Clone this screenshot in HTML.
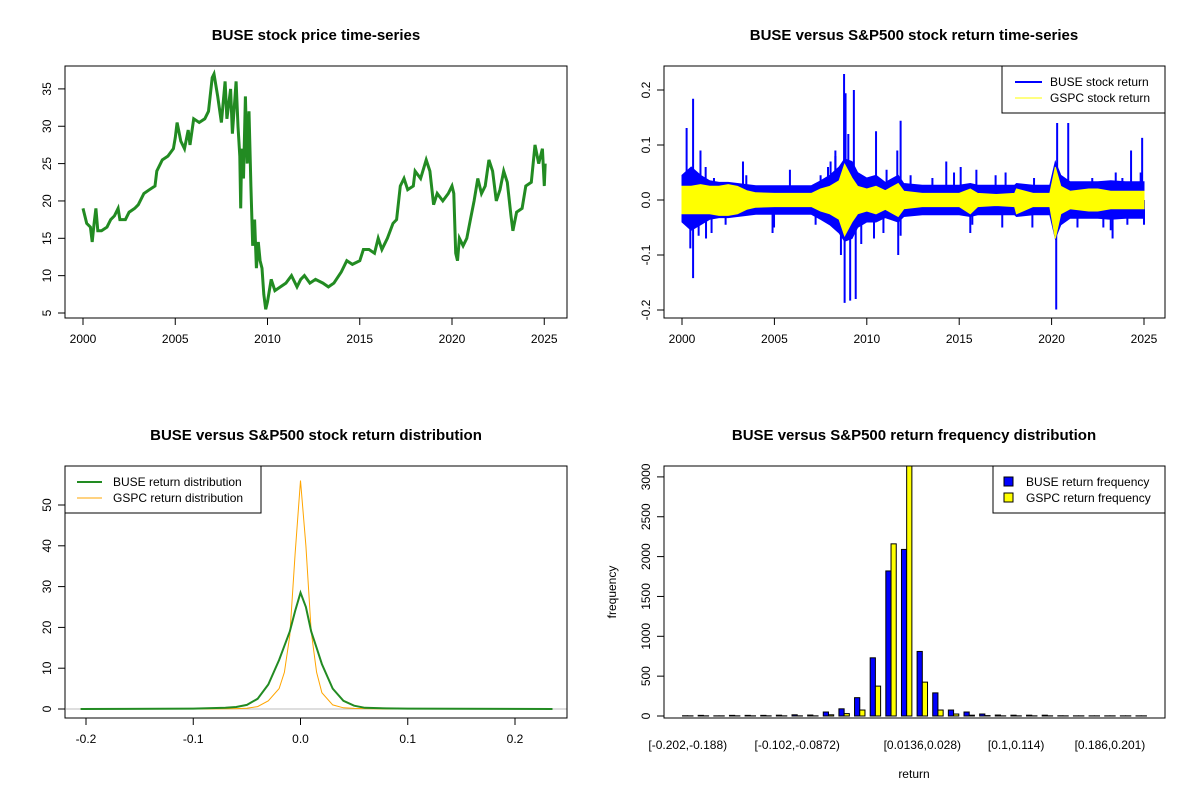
<!DOCTYPE html>
<html><head><meta charset="utf-8"><style>
body{margin:0;background:#fff}
svg{display:block;font-family:"Liberation Sans",Arial,sans-serif}
.t{font-size:12px;fill:#000}
.ti{font-size:15px;font-weight:bold;fill:#000}
</style></head><body>
<svg id="s" width="1200" height="800" viewBox="0 0 1200 800"></svg>
<script>
// ---------- data ----------
const priceYears=[2000.0,2000.2,2000.4,2000.5,2000.6,2000.7,2000.8,2001.0,2001.3,2001.5,2001.7,2001.9,2002.0,2002.3,2002.5,2002.8,2003.0,2003.3,2003.6,2003.9,2004.0,2004.3,2004.6,2004.9,2005.0,2005.1,2005.3,2005.5,2005.7,2005.8,2006.0,2006.3,2006.6,2006.8,2007.0,2007.1,2007.3,2007.5,2007.7,2007.8,2008.0,2008.1,2008.3,2008.4,2008.5,2008.55,2008.6,2008.7,2008.8,2008.9,2009.0,2009.1,2009.2,2009.3,2009.4,2009.5,2009.6,2009.7,2009.8,2009.9,2010.0,2010.2,2010.4,2010.7,2011.0,2011.3,2011.6,2011.8,2012.0,2012.3,2012.6,2013.0,2013.3,2013.6,2014.0,2014.3,2014.6,2015.0,2015.2,2015.5,2015.8,2016.0,2016.2,2016.5,2016.8,2017.0,2017.2,2017.4,2017.6,2017.9,2018.0,2018.3,2018.6,2018.8,2019.0,2019.2,2019.5,2019.8,2020.0,2020.1,2020.2,2020.3,2020.4,2020.6,2020.8,2021.0,2021.2,2021.4,2021.6,2021.8,2022.0,2022.2,2022.4,2022.6,2022.8,2023.0,2023.2,2023.3,2023.5,2023.8,2024.0,2024.3,2024.5,2024.7,2024.9,2025.0,2025.05];
const priceValues=[19,17,16.5,14.5,17,19,16,16,16.5,17.5,18,19,17.5,17.5,18.5,19,19.5,21,21.5,22,24,25.5,26,27,28.5,30.5,28,27,29.5,27.5,31,30.5,31,32,36.5,37,34,30.5,36,31,35,29,36,30,26,19,27,23,34,25,32,22,14,17.5,11,14.5,12,11,7.5,5.5,6.5,9.5,8,8.5,9,10,8.5,9.5,10,9,9.5,9,8.5,9,10.5,12,11.5,12,13.5,13.5,13,15,13.5,15,17,17.5,22,23,21.5,22,24,23,25.5,24,19.5,21,20,21,22,21,13,12,15,14,15,17.5,20,23,21,22,25.5,24,20,21.5,24,22.5,18,16,18.5,19,22,22.5,27.5,25,27,22,25];
const priceTicks=[5,10,15,20,25,30,35];
const yearTicks=[2000,2005,2010,2015,2020,2025];

const bandYears=[2000,2000.5,2001,2001.5,2002,2002.5,2003,2003.5,2004,2005,2006,2007,2007.5,2008,2008.5,2008.8,2009.2,2009.5,2010,2010.5,2011,2011.7,2012,2013,2014,2015,2015.6,2016,2017,2018,2018.1,2019,2019.9,2020.2,2020.5,2021,2022,2022.5,2023.2,2024,2025];
const buseUp=[0.045,0.06,0.045,0.035,0.032,0.032,0.03,0.028,0.026,0.026,0.026,0.026,0.035,0.045,0.06,0.075,0.07,0.05,0.04,0.045,0.032,0.045,0.03,0.027,0.027,0.027,0.03,0.027,0.027,0.027,0.03,0.027,0.027,0.07,0.045,0.033,0.033,0.033,0.035,0.033,0.033];
const buseDn=[-0.04,-0.055,-0.045,-0.035,-0.032,-0.032,-0.03,-0.028,-0.026,-0.026,-0.026,-0.026,-0.035,-0.045,-0.06,-0.075,-0.07,-0.05,-0.04,-0.04,-0.032,-0.04,-0.03,-0.027,-0.027,-0.027,-0.03,-0.027,-0.027,-0.027,-0.03,-0.027,-0.027,-0.07,-0.045,-0.033,-0.033,-0.033,-0.035,-0.033,-0.033];
const gspcUp=[0.025,0.025,0.028,0.025,0.025,0.028,0.025,0.017,0.013,0.012,0.012,0.012,0.02,0.025,0.035,0.065,0.04,0.025,0.02,0.025,0.017,0.03,0.016,0.012,0.012,0.012,0.02,0.012,0.01,0.012,0.02,0.012,0.012,0.06,0.025,0.016,0.02,0.02,0.016,0.016,0.016];
const gspcDn=[-0.025,-0.025,-0.025,-0.025,-0.028,-0.028,-0.025,-0.017,-0.013,-0.012,-0.012,-0.012,-0.02,-0.025,-0.035,-0.065,-0.04,-0.025,-0.02,-0.025,-0.017,-0.03,-0.016,-0.012,-0.012,-0.012,-0.025,-0.012,-0.01,-0.012,-0.025,-0.012,-0.012,-0.07,-0.025,-0.016,-0.02,-0.02,-0.016,-0.016,-0.016];
const spikeYears=[2000.25,2000.6,2000.6,2000.45,2001.0,2001.3,2003.3,2004.9,2007.9,2008.3,2008.77,2008.85,2008.8,2009.3,2009.1,2009.4,2009.0,2010.5,2011.83,2011.7,2014.3,2015.6,2020.3,2020.25,2020.9,2023.3,2024.9,2024.3,
 2001.28,2001.73,2003.48,2005.84,2007.5,2008.04,2008.3,2011.07,2011.65,2012.37,2013.55,2014.72,2015.08,2015.93,2016.97,2017.51,2019.05,2022.2,2023.47,2023.83,2024.82,
 2002.36,2004.98,2007.23,2010.39,2011.83,2015.71,2017.33,2018.96,2023.2,2024.1,2025.0,2000.9,2001.6,2008.6,2009.7,2010.9,2021.4,2022.8];
const spikeValues=[0.131,0.184,-0.142,-0.088,0.09,-0.07,0.07,-0.06,0.06,0.09,0.229,0.194,-0.187,0.2,-0.183,-0.18,0.12,0.125,0.144,-0.1,0.07,-0.06,0.14,-0.199,0.14,-0.07,0.113,0.09,
 0.06,0.04,0.045,0.055,0.045,0.07,0.08,0.055,0.09,0.045,0.04,0.05,0.06,0.055,0.045,0.05,0.04,0.04,0.05,0.04,0.05,
 -0.045,-0.05,-0.045,-0.07,-0.065,-0.045,-0.05,-0.05,-0.055,-0.045,-0.045,-0.065,-0.06,-0.1,-0.08,-0.06,-0.05,-0.05];
const retTicks=[-0.2,-0.1,0.0,0.1,0.2];

const densX=[-0.205,-0.1,-0.07,-0.06,-0.05,-0.04,-0.03,-0.02,-0.015,-0.01,-0.005,0,0.005,0.01,0.015,0.02,0.03,0.04,0.05,0.06,0.08,0.1,0.235];
const densBuse=[0,0.1,0.3,0.5,1,2.5,6,12,15.5,19,24,28.5,25,19,15,11,5,2,0.8,0.3,0.15,0.1,0];
const densGspc=[0,0,0.05,0.1,0.2,0.6,2,5,9,18,38,56,40,19,9,4,1,0.3,0.15,0.1,0,0,0];
const densXTicks=[-0.2,-0.1,0.0,0.1,0.2];
const densYTicks=[0,10,20,30,40,50];

const binLabels=["[-0.202,-0.188)","[-0.102,-0.0872)","[0.0136,0.028)","[0.1,0.114)","[0.186,0.201)"];
const binLabelIdx=[0,7,15,21,27];
const freqBuse=[3,8,2,8,8,8,10,15,12,50,90,230,730,1820,2090,810,290,75,50,25,12,10,10,10,3,2,2,2,2,2];
const freqGspc=[2,2,2,2,2,2,2,2,2,15,30,75,375,2160,3150,425,75,25,10,5,2,2,2,2,2,2,2,2,2,2];
const freqTicks=[0,500,1000,1500,2000,2500,3000];

// ---------- helpers ----------
const S=document.getElementById('s');const NS='http://www.w3.org/2000/svg';
function el(tag,attrs,parent,text){const e=document.createElementNS(NS,tag);for(const k in attrs)e.setAttribute(k,attrs[k]);if(text!==undefined)e.textContent=text;(parent||S).appendChild(e);return e;}
function grp(name){const g=el('g',{});return g;}
function box(g,x0,y0,x1,y1){const r=el('rect',{x:x0,y:y0,width:x1-x0,height:y1-y0,fill:'none',stroke:'#000','stroke-width':1},g);}
function title(txt,x,y,name){const t=el('text',{x:x,y:y,'text-anchor':'middle',class:'ti'},S,txt);}
function xAxis(g,ticks,fx,yb,fmt){const ax=el('g',{},g);
 el('line',{x1:fx(ticks[0]),x2:fx(ticks[ticks.length-1]),y1:yb,y2:yb,stroke:'#000'},ax);
 ticks.forEach(v=>{const x=fx(v);el('line',{x1:x,x2:x,y1:yb,y2:yb+7,stroke:'#000'},ax);const t=el('text',{x:x,y:yb+25,'text-anchor':'middle',class:'t'},ax,fmt(v));});}
function yAxis(g,ticks,fy,xl,fmt){const ax=el('g',{},g);
 el('line',{x1:xl,x2:xl,y1:fy(ticks[0]),y2:fy(ticks[ticks.length-1]),stroke:'#000'},ax);
 ticks.forEach(v=>{const y=fy(v);el('line',{x1:xl,x2:xl-7,y1:y,y2:y,stroke:'#000'},ax);const t=el('text',{x:xl-14,y:y,'text-anchor':'middle',class:'t',transform:`rotate(-90 ${xl-14} ${y})`},ax,fmt(v));});}
function pathOf(xs,ys,fx,fy){return xs.map((v,i)=>(i?'L':'M')+fx(v).toFixed(1)+','+fy(ys[i]).toFixed(1)).join('');}

// ---------- panel 1 ----------
{const g=grp('price-panel');const fx=v=>83+(v-2000)*18.45;const fy=v=>313-(v-5)*7.47;
 const p=el('path',{d:pathOf(priceYears,priceValues,fx,fy),fill:'none',stroke:'#228B22','stroke-width':3,'stroke-linejoin':'miter'},g);
 
 box(g,65,66,567,318);xAxis(g,yearTicks,fx,318,v=>v);yAxis(g,priceTicks,fy,65,v=>v);
 title('BUSE stock price time-series',316,40,'price-title');}

// ---------- panel 2 ----------
{const g=grp('return-panel');const fx=v=>682+(v-2000)*18.48;const fy=v=>200-v*550;
 function band(up,dn,color,name){const d=pathOf(bandYears,up,fx,fy)+bandYears.slice().reverse().map((v,i)=>'L'+fx(v).toFixed(1)+','+fy(dn[dn.length-1-i]).toFixed(1)).join('')+'Z';
  const b=el('path',{d:d,fill:color,stroke:color,'stroke-width':1},g);}
 band(buseUp,buseDn,'#0000FF','buse-return-band');
 spikeYears.forEach((yr,i)=>{const l=el('line',{x1:fx(yr),x2:fx(yr),y1:fy(0),y2:fy(spikeValues[i]),stroke:'#0000FF','stroke-width':2},g);
  });
 band(gspcUp,gspcDn,'#FFFF00','gspc-return-band');
 box(g,664,66,1165,318);xAxis(g,yearTicks,fx,318,v=>v);yAxis(g,retTicks,fy,664,v=>v.toFixed(1));
 title('BUSE versus S&P500 stock return time-series',914,40,'return-title');
 const lg=el('g',{},g);
 el('rect',{x:1002,y:66,width:163,height:47,fill:'#fff',stroke:'#000'},lg);
 el('line',{x1:1015,x2:1042,y1:82,y2:82,stroke:'#0000FF','stroke-width':2},lg);
 el('line',{x1:1015,x2:1042,y1:98,y2:98,stroke:'#FFFF00','stroke-width':1},lg);
 el('text',{x:1050,y:86,class:'t'},lg,'BUSE stock return');el('text',{x:1050,y:102,class:'t'},lg,'GSPC stock return');}

// ---------- panel 3 ----------
{const g=grp('density-panel');const fx=v=>300.5+v*1072.5;const fy=v=>709-v*4.08;
 const z=el('line',{x1:66,x2:567,y1:fy(0),y2:fy(0),stroke:'#BEBEBE'},g);
 const a=el('path',{d:pathOf(densX,densGspc,fx,fy),fill:'none',stroke:'#FFA500','stroke-width':1},g);
 const b=el('path',{d:pathOf(densX,densBuse,fx,fy),fill:'none',stroke:'#228B22','stroke-width':2},g);
 box(g,65,466,567,718);xAxis(g,densXTicks,fx,718,v=>v.toFixed(1));yAxis(g,densYTicks,fy,65,v=>v);
 title('BUSE versus S&P500 stock return distribution',316,440,'density-title');
 const lg=el('g',{},g);
 el('rect',{x:65,y:466,width:196,height:47,fill:'#fff',stroke:'#000'},lg);
 el('line',{x1:77,x2:102,y1:482,y2:482,stroke:'#228B22','stroke-width':2},lg);
 el('line',{x1:77,x2:102,y1:498,y2:498,stroke:'#FFA500','stroke-width':1},lg);
 el('text',{x:113,y:486,class:'t'},lg,'BUSE return distribution');el('text',{x:113,y:502,class:'t'},lg,'GSPC return distribution');}

// ---------- panel 4 ----------
{const g=grp('frequency-panel');const u=5.212;const fx=v=>664+(v+2.56)*u;const fy=v=>Math.max(466,716-v*0.0797);
 const bars=el('g',{},g);
 freqBuse.forEach((v,i)=>{const x=fx(1+3*i);const r=el('rect',{x:x,y:fy(v),width:u,height:716-fy(v),fill:'#0000FF',stroke:'#000','stroke-width':1},bars);
  });
 freqGspc.forEach((v,i)=>{const x=fx(2+3*i);const r=el('rect',{x:x,y:fy(v),width:u,height:716-fy(v),fill:'#FFFF00',stroke:'#000','stroke-width':1},bars);
  });
 box(g,664,466,1165,718);yAxis(g,freqTicks,v=>716-v*0.0797,664,v=>v);
 binLabels.forEach((l,k)=>{const t=el('text',{x:fx(2+3*binLabelIdx[k]),y:749,'text-anchor':'middle',class:'t'},g,l);});
 const xt=el('text',{x:914,y:778,'text-anchor':'middle',class:'t'},g,'return');
 const yt=el('text',{x:616,y:592,'text-anchor':'middle',class:'t',transform:'rotate(-90 616 592)'},g,'frequency');
 title('BUSE versus S&P500 return frequency distribution',914,440,'frequency-title');
 const lg=el('g',{},g);
 el('rect',{x:993,y:466,width:172,height:47,fill:'#fff',stroke:'#000'},lg);
 el('rect',{x:1004,y:477,width:9,height:9,fill:'#0000FF',stroke:'#000'},lg);
 el('rect',{x:1004,y:493,width:9,height:9,fill:'#FFFF00',stroke:'#000'},lg);
 el('text',{x:1026,y:486,class:'t'},lg,'BUSE return frequency');el('text',{x:1026,y:502,class:'t'},lg,'GSPC return frequency');}
</script>
</body></html>
